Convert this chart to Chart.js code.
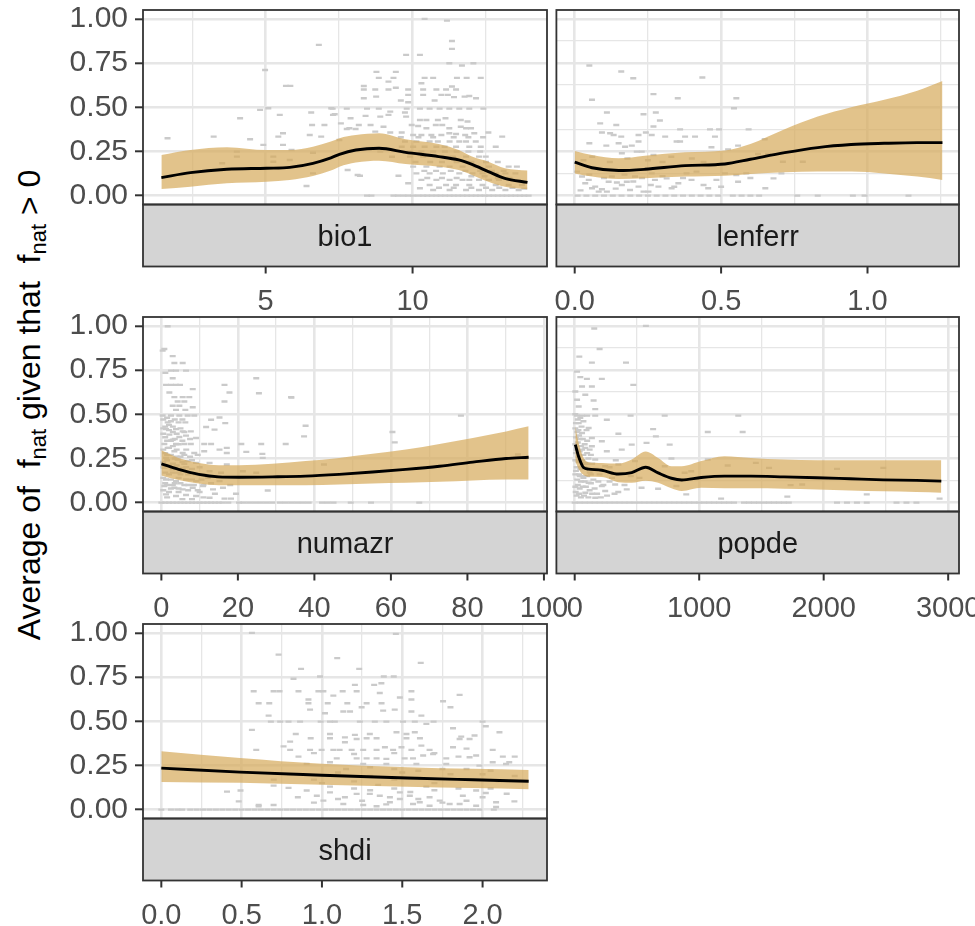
<!DOCTYPE html>
<html>
<head>
<meta charset="utf-8">
<script src="https://cdn.jsdelivr.net/npm/chart.js@4.4.0/dist/chart.umd.min.js"></script>
<style>
  body { margin: 0; background: #fff; overflow: hidden; }
  #wrap { position: relative; width: 975px; height: 926px; overflow: hidden; font-family: "Liberation Sans", Arial, sans-serif; }
  .panel { position: absolute; }
  #ytitle { position: absolute; left: 31px; top: 405px; transform: translate(-50%, -50%) rotate(-90deg);
            white-space: nowrap; font-size: 32px; color: #000; }
  #ytitle sub { font-size: 22px; vertical-align: -6px; }
</style>
</head>
<body>
<div id="wrap">
  <div id="ytitle">Average of&nbsp; f<sub>nat</sub> given that&nbsp; f<sub>nat</sub> &gt; 0</div>
  <div class="panel" style="left:0;top:0;width:570px;height:325px"><canvas id="c_bio1"></canvas></div>
  <div class="panel" style="left:551px;top:0;width:424px;height:325px"><canvas id="c_lenferr"></canvas></div>
  <div class="panel" style="left:0;top:307px;width:570px;height:325px"><canvas id="c_numazr"></canvas></div>
  <div class="panel" style="left:551px;top:307px;width:424px;height:325px"><canvas id="c_popde"></canvas></div>
  <div class="panel" style="left:0;top:614px;width:570px;height:325px"><canvas id="c_shdi"></canvas></div>
</div>
<script>
// shared y axis
const yMajor = [0, 0.25, 0.5, 0.75, 1];
const yMinor = [0.125, 0.375, 0.625, 0.875];
const yLabels = ["0.00", "0.25", "0.50", "0.75", "1.00"];

// ---- bio1
const bio1X   = [1.45, 2.44, 3.68, 5.03, 5.82, 6.61, 7.22, 7.51, 8.07, 8.86, 9.76, 10.89, 11.57, 12.02, 12.58, 13.14, 13.91];
const bio1Fit = [0.102, 0.130, 0.149, 0.155, 0.160, 0.183, 0.214, 0.234, 0.258, 0.268, 0.245, 0.221, 0.202, 0.177, 0.136, 0.098, 0.075];
const bio1Hi  = [0.230, 0.258, 0.274, 0.258, 0.258, 0.277, 0.306, 0.325, 0.343, 0.353, 0.319, 0.292, 0.258, 0.221, 0.192, 0.155, 0.142];
const bio1Lo  = [0.038, 0.051, 0.070, 0.079, 0.089, 0.111, 0.142, 0.164, 0.187, 0.198, 0.179, 0.164, 0.145, 0.117, 0.079, 0.051, 0.036];
const bio1Pts = [[1.66,0.325],[3.23,0.334],[3.52,0.183],[4.02,0.249],[4.02,0.221],[4.13,0.438],[4.47,0.319],[4.81,0.485],[4.92,0.287],[4.98,0.711],
  [5.09,0.494],[5.26,0.221],[5.26,0.192],[5.43,0.334],[5.48,0.457],[5.59,0.353],[5.59,0.287],[5.69,0.621],[5.84,0.621],[5.82,0.202],[5.88,0.258],
  [6.39,0.055],[6.50,0.343],[6.55,0.47],[6.58,0.40],[6.61,0.243],[6.61,0.126],[6.81,0.853],[6.89,0.334],[7.0,0.40],[7.23,0.494],[7.29,0.457],
  [10.41,1.0],[11.17,0.99],[11.34,0.875],[11.34,0.83],[9.78,0.796],[10.25,0.796],[11.25,0.749],[11.68,0.736],[12.07,0.749],[8.77,0.70],[9.43,0.70],
  [8.85,0.666],[9.35,0.666],[9.18,0.645],[10.30,0.636],[10.41,0.666],[10.70,0.666],[11.51,0.666],[11.84,0.666],[12.32,0.666],[8.34,0.62],[8.34,0.60],
  [8.73,0.60],[9.18,0.60],[9.43,0.61],[9.85,0.60],[10.36,0.60],[10.81,0.60],[11.14,0.60],[11.48,0.60],[11.34,0.617],[8.34,0.551],[8.76,0.56],[9.60,0.538],
  [9.85,0.57],[9.85,0.528],[10.36,0.57],[10.75,0.538],[10.98,0.57],[11.2,0.57],[11.41,0.557],[11.77,0.56],[11.93,0.564],[12.16,0.551],[7.28,0.492],
  [7.76,0.492],[8.45,0.492],[8.85,0.492],[9.24,0.475],[9.80,0.492],[10.25,0.492],[10.58,0.492],[10.92,0.492],[11.25,0.492],[11.59,0.492],[11.93,0.492],
  [12.41,0.492],[7.35,0.46],[7.89,0.438],[8.40,0.451],[8.90,0.447],[9.18,0.457],[9.74,0.47],[9.78,0.447],[10.25,0.428],[10.47,0.428],[10.86,0.428],
  [11.12,0.438],[11.64,0.428],[11.87,0.419],[7.56,0.409],[8.17,0.40],[8.57,0.40],[9.01,0.39],[9.97,0.40],[10.19,0.394],[10.47,0.381],[10.79,0.40],
  [11.01,0.40],[11.25,0.381],[11.64,0.39],[11.82,0.381],[11.99,0.381],[7.76,0.377],[8.06,0.377],[8.73,0.362],[9.24,0.357],[9.63,0.357],[10.02,0.343],
  [10.30,0.343],[10.64,0.343],[10.98,0.343],[11.25,0.353],[11.48,0.349],[11.79,0.343],[12.10,0.353],[12.58,0.357],[13.05,0.334],
  [9.74,0.306],[10.13,0.306],[10.58,0.306],[10.86,0.306],[11.26,0.306],[11.59,0.306],[11.82,0.306],[12.15,0.306],
  [9.63,0.277],[10.02,0.277],[10.41,0.277],[10.81,0.277],[11.09,0.277],[11.48,0.277],[11.93,0.277],[12.32,0.277],[12.83,0.277],
  [9.91,0.221],[10.36,0.221],[10.92,0.221],[11.37,0.221],[11.82,0.221],[12.26,0.221],[12.49,0.221],
  [10.02,0.164],[10.47,0.164],[10.92,0.164],[11.26,0.164],[11.70,0.164],[12.15,0.164],[12.60,0.164],[13.27,0.164],[13.55,0.164],
  [10.13,0.126],[10.58,0.126],[11.03,0.126],[11.59,0.126],[12.04,0.126],[12.38,0.126],[12.83,0.126],[13.16,0.126],[13.50,0.126],
  [10.30,0.089],[10.81,0.089],[11.26,0.089],[11.70,0.089],[11.93,0.089],[12.26,0.089],[12.60,0.089],[12.94,0.089],[13.39,0.089],
  [10.58,0.06],[11.14,0.06],[11.48,0.06],[11.93,0.06],[12.38,0.06],[12.83,0.06],[13.27,0.06],[13.72,0.06],
  [10.70,0.032],[11.26,0.032],[11.82,0.032],[12.26,0.032],[12.71,0.032],[13.16,0.032],[13.61,0.032],
  [8.21,0.113],[9.52,0.113],[9.85,0.07],[10.25,0.042],[8.9,0.25],[9.3,0.22],[8.6,0.27],[7.79,0.145],[8.13,0.117],[7.51,0.315],[7.85,0.381],
  [9.9,0.25],[10.3,0.25],[10.7,0.25],[11.1,0.25],[11.5,0.25],[11.9,0.25],[12.3,0.25],[10.1,0.19],[10.6,0.19],[11.0,0.19],[11.5,0.19],
  [12.0,0.19],[12.5,0.19],[12.9,0.19],[10.4,0.14],[10.8,0.14],[11.3,0.14],[11.8,0.14],[12.3,0.14],[12.7,0.14],[13.1,0.14],[10.5,0.1],
  [11.0,0.1],[11.5,0.1],[12.0,0.11],[12.45,0.11],[12.9,0.1],[13.3,0.1],[10.9,0.045],[11.4,0.045],[12.0,0.045],[12.5,0.045],[12.95,0.045],
  [13.4,0.045],[13.8,0.04],[9.6,0.33],[10.2,0.33],[10.7,0.33],[11.4,0.33],[11.9,0.33],[12.4,0.33]];
const bio1Zero = [8.45,8.6,9.35,9.5,9.69,9.85,10.02,10.2,10.36,10.5,10.65,10.81,10.95,11.1,11.26,11.4,11.55,11.7,11.85,12.0,
  12.15,12.3,12.45,12.6,12.75,12.9,13.05,13.2,13.35,13.5,13.65,13.8,13.95];
const bio1Major = [5, 10], bio1Minor = [2.5, 7.5, 12.5], bio1Labels = ["5", "10"];

// ---- lenferr
const lenX   = [0, 0.059, 0.15, 0.24, 0.377, 0.513, 0.60, 0.717, 0.83, 0.944, 1.057, 1.17, 1.256];
const lenFit = [0.189, 0.158, 0.142, 0.149, 0.17, 0.179, 0.206, 0.243, 0.272, 0.289, 0.296, 0.30, 0.30];
const lenHi  = [0.253, 0.23, 0.211, 0.226, 0.245, 0.255, 0.292, 0.375, 0.447, 0.50, 0.542, 0.594, 0.649];
const lenLo  = [0.126, 0.108, 0.094, 0.098, 0.108, 0.113, 0.123, 0.132, 0.136, 0.136, 0.126, 0.108, 0.089];
const lenPts = [[0.05,0.736],[0.159,0.702],[0.20,0.664],[0.059,0.542],[0.269,0.574],[0.352,0.551],[0.436,0.668],[0.552,0.551],[0.544,0.494],
  [0.11,0.47],[0.087,0.409],[0.142,0.40],[0.235,0.46],[0.277,0.47],[0.291,0.425],[0.269,0.391],[0.093,0.357],[0.121,0.353],[0.133,0.343],
  [0.159,0.334],[0.218,0.343],[0.243,0.357],[0.263,0.343],[0.309,0.334],[0.36,0.375],[0.377,0.334],[0.411,0.334],[0.462,0.375],[0.493,0.375],
  [0.479,0.334],[0.594,0.375],[0.649,0.319],[0.05,0.296],[0.108,0.283],[0.15,0.296],[0.172,0.277],[0.195,0.283],[0.218,0.306],[0.212,0.249],
  [0.161,0.24],[0.229,0.249],[0.269,0.23],[0.348,0.306],[0.36,0.306],[0.467,0.274],[0.524,0.262],[0.558,0.283],[0.626,0.236],[0.66,0.236],
  [0.711,0.192],[0.779,0.192],[0.008,0.136],[0.025,0.108],[0.036,0.07],[0.048,0.089],[0.059,0.042],[0.07,0.051],[0.082,0.023],[0.093,0.036],
  [0.11,0.023],[0.116,0.079],[0.127,0.108],[0.144,0.074],[0.161,0.06],[0.178,0.079],[0.189,0.032],[0.206,0.108],[0.218,0.051],[0.235,0.023],
  [0.252,0.023],[0.263,0.126],[0.274,0.089],[0.286,0.051],[0.314,0.098],[0.331,0.042],[0.354,0.07],[0.382,0.126],[0.399,0.089],[0.416,0.136],
  [0.456,0.042],[0.484,0.089],[0.513,0.126],[0.552,0.117],[0.558,0.079],[0.586,0.126],[0.651,0.042],[0.679,0.098],[0.706,0.126],
  [0.03,0.2],[0.06,0.22],[0.12,0.19],[0.18,0.21],[0.25,0.2],[0.3,0.19],[0.33,0.22],[0.4,0.21],[0.44,0.19],
  [0.02,0.03],[0.05,0.12],[0.1,0.1],[0.14,0.04],[0.17,0.12],[0.2,0.08],[0.23,0.1],[0.26,0.06],[0.3,0.11],[0.34,0.05],[0.37,0.1],
  [0.44,0.06],[0.5,0.05],[0.6,0.1]];
const lenZero = [0.01,0.04,0.07,0.1,0.13,0.16,0.19,0.22,0.25,0.28,0.31,0.34,0.37,0.40,0.43,0.46,0.49,0.54,0.57,0.60,0.63,0.76,0.83,0.95,0.99,1.14];
const lenMajor = [0, 0.5, 1.0], lenMinor = [0.25, 0.75, 1.25], lenLabels = ["0.0", "0.5", "1.0"];

// ---- numazr
const numX   = [0, 4.5, 9.8, 15, 20.3, 29, 37.7, 46.5, 55.2, 63.9, 72.7, 81.4, 90.1, 96];
const numFit = [0.22, 0.188, 0.16, 0.146, 0.144, 0.146, 0.15, 0.16, 0.173, 0.188, 0.206, 0.229, 0.25, 0.257];
const numHi  = [0.296, 0.253, 0.225, 0.212, 0.212, 0.22, 0.235, 0.253, 0.276, 0.30, 0.332, 0.366, 0.403, 0.432];
const numLo  = [0.154, 0.128, 0.109, 0.099, 0.098, 0.098, 0.099, 0.103, 0.109, 0.113, 0.118, 0.126, 0.131, 0.131];
const numPts = [[1.65,0.998],[0.78,0.869],[0.34,0.86],[2.96,0.829],[3.4,0.79],[5.57,0.79],[2.52,0.747],[3.83,0.747],[6.45,0.747],[1.04,0.735],
  [2.96,0.704],[24.8,0.704],[1.22,0.666],[2.52,0.666],[3.83,0.666],[4.88,0.666],[8.2,0.642],[16.5,0.666],[2.09,0.623],[3.4,0.597],[5.57,0.597],
  [7.3,0.597],[17.8,0.623],[25.5,0.619],[33.9,0.597],[4.26,0.572],[6.0,0.572],[2.96,0.548],[4.7,0.548],[6.27,0.525],[8.2,0.54],[3.83,0.525],
  [16.5,0.572],[0.34,0.493],[2.52,0.493],[4.7,0.493],[6.88,0.493],[8.6,0.493],[1.65,0.454],[4.5,0.454],[6.27,0.454],[13,0.469],[15.2,0.482],
  [16.7,0.45],[1.22,0.416],[3.83,0.416],[5.57,0.403],[7.7,0.403],[11.7,0.428],[13.9,0.413],[2.09,0.385],[4.7,0.371],[6.45,0.379],[9.07,0.366],
  [2.96,0.356],[0.78,0.332],[3.83,0.332],[6.0,0.332],[7.7,0.332],[11.2,0.332],[13,0.332],[17.1,0.31],[20.9,0.332],[26.1,0.332],[32.5,0.332],
  [15.2,0.30],[1.65,0.31],[3.4,0.291],[5.57,0.281],[8.6,0.281],[11.2,0.291],[22.2,0.287],[26.4,0.276],[26.5,0.253],[17.1,0.281],[1.22,0.253],
  [4.26,0.244],[6.88,0.235],[9.07,0.225],[12.6,0.225],[17.1,0.216],[0.78,0.197],[2.96,0.188],[5.57,0.197],[8.0,0.191],[12.6,0.178],[15.6,0.169],
  [21.3,0.178],[24.8,0.169],[1.22,0.131],[3.83,0.122],[6.45,0.131],[9.07,0.122],[12.2,0.141],[15.2,0.122],[0.78,0.094],[3.4,0.084],[5.57,0.075],
  [8.2,0.084],[10.9,0.094],[13.5,0.075],[16.1,0.084],[27.8,0.069],[1.22,0.047],[3.83,0.038],[6.45,0.043],[9.07,0.038],[12.6,0.028],[16.5,0.023],
  [18.2,0.023],[78.3,0.492],[60.4,0.40],[61,0.341],[42.5,0.216],[37.7,0.435],[37.3,0.375],[34,0.595],[93.2,0.272],
  [0.5,0.42],[2,0.44],[3,0.4],[1,0.37],[2.5,0.35],[4,0.3],[5,0.26],[1.5,0.27],[3,0.22],[6,0.22],[0.5,0.23],[2,0.16],[4.5,0.17],[7,0.16],
  [1,0.11],[3,0.1],[5,0.11],[7,0.1],[2,0.06],[4.5,0.06],[10,0.06],[11,0.16],
  [0.5,0.47],[1.5,0.48],[2.5,0.46],[3.5,0.47],[5.5,0.47],[1,0.43],[2,0.41],[3,0.43],[4,0.39],[5,0.42],[6,0.4],[0.5,0.39],[1.5,0.35],
  [3.5,0.36],[5.5,0.35],[7.5,0.36],[0.5,0.3],[2,0.31],[3,0.32],[4.5,0.33],[6.5,0.3],[1,0.28],[2.5,0.27],[4,0.26],[6,0.27],[7.5,0.26],
  [9.5,0.27],[1.5,0.24],[3.5,0.25],[5.5,0.23],[8,0.24],[0.5,0.2],[2,0.21],[4,0.21],[6.5,0.2],[10,0.2],[1,0.17],[3,0.17],[5,0.16],[9,0.16],
  [0.5,0.14],[2.5,0.13],[4.5,0.14],[8,0.13],[10.5,0.13],[1.5,0.1],[3.5,0.11],[6,0.1],[8.5,0.1],[11,0.1],[0.5,0.07],[2.5,0.08],[4.5,0.08],
  [7,0.07],[9.5,0.07],[1.5,0.03],[5.5,0.02],[8,0.02],[11,0.03],[14,0.05],[13,0.11],[15,0.14],[18,0.1],[19.5,0.05]];
const numZero = [0,1,2,3,4,5,6,7,8,9,10,11,12,13,14,15,16,17.5,20.3,21.5,23,24.5,26,27.5,29,31,32.5,34,35.5,37,38.5,42,43.5,45,49.5,54.8,67.4];
const numMajor = [0, 20, 40, 60, 80, 100], numMinor = [10, 30, 50, 70, 90], numLabels = ["0", "20", "40", "60", "80", "100"];

// ---- popde
const popX   = [5, 32, 72, 112, 218, 351, 458, 570, 670, 777, 860, 1016, 1202, 1415, 1681, 1947, 2213, 2479, 2745, 2945];
const popFit = [0.328, 0.26, 0.198, 0.19, 0.183, 0.162, 0.17, 0.2, 0.168, 0.138, 0.128, 0.142, 0.15, 0.15, 0.146, 0.141, 0.135, 0.129, 0.126, 0.122];
const popHi  = [0.432, 0.338, 0.253, 0.229, 0.225, 0.221, 0.244, 0.289, 0.253, 0.206, 0.206, 0.235, 0.263, 0.253, 0.244, 0.24, 0.24, 0.24, 0.24, 0.24];
const popLo  = [0.234, 0.191, 0.156, 0.146, 0.145, 0.116, 0.113, 0.124, 0.112, 0.081, 0.066, 0.084, 0.081, 0.081, 0.079, 0.075, 0.069, 0.064, 0.06, 0.056];
const popPts = [[157,0.985],[572,1.0],[200,0.869],[37,0.826],[138,0.792],[412,0.792],[19,0.741],[45,0.71],[98,0.70],[218,0.70],[471,0.666],
  [59,0.657],[138,0.657],[5,0.629],[85,0.61],[152,0.578],[19,0.582],[32,0.544],[165,0.529],[19,0.492],[60,0.492],[100,0.492],[165,0.492],
  [258,0.469],[449,0.492],[723,0.492],[1314,0.492],[32,0.45],[112,0.422],[351,0.39],[630,0.416],[1069,0.40],[1349,0.40],[652,0.375],[59,0.394],
  [138,0.366],[218,0.347],[458,0.328],[577,0.338],[763,0.328],[138,0.319],[258,0.291],[378,0.30],[777,0.25],[1069,0.244],[1455,0.225],[1229,0.21],
  [1561,0.197],[2479,0.197],[2107,0.191],[85,0.225],[165,0.244],[245,0.206],[351,0.216],[484,0.235],[936,0.178],[883,0.169],[723,0.206],[40,0.15],
  [112,0.113],[218,0.094],[325,0.103],[418,0.075],[537,0.084],[670,0.079],[817,0.094],[896,0.047],[1176,0.023],[1708,0.034],[1827,0.103],
  [1734,0.099],[2346,0.047],[2931,0.023],[85,0.056],[165,0.028],[245,0.066],
  [10,0.45],[20,0.4],[40,0.36],[60,0.3],[15,0.3],[80,0.33],[30,0.26],[100,0.28],[50,0.2],[10,0.18],[70,0.14],[25,0.1],[120,0.17],[150,0.13],
  [8,0.06],[50,0.03],[90,0.09],[180,0.05],[110,0.25],[200,0.16],[300,0.14],[260,0.04],[350,0.06],
  [5,0.5],[25,0.47],[45,0.48],[70,0.46],[5,0.42],[30,0.41],[55,0.43],[95,0.41],[10,0.37],[35,0.38],[65,0.36],[100,0.35],[5,0.33],
  [25,0.34],[50,0.32],[85,0.31],[120,0.3],[10,0.28],[40,0.29],[70,0.27],[130,0.27],[5,0.24],[30,0.23],[60,0.24],[90,0.22],[140,0.22],
  [15,0.2],[45,0.19],[75,0.2],[110,0.19],[170,0.19],[5,0.16],[35,0.16],[60,0.15],[100,0.15],[130,0.16],[20,0.13],[50,0.12],[80,0.12],
  [130,0.11],[190,0.12],[5,0.09],[40,0.08],[65,0.09],[120,0.07],[160,0.08],[15,0.04],[35,0.05],[75,0.04],[110,0.03],[140,0.05],[210,0.03],
  [230,0.1],[280,0.12],[320,0.05],[400,0.1],[450,0.15],[280,0.2],[330,0.24],[520,0.14]];
const popZero = [0,40,80,120,160,200,240,280,320,360,400,440,480,520,560,600,640,680,720,760,800,840,880,920,960,1000,1040,1080,1120,1160,
  1200,1240,1280,1360,1400,1440,1480,1520,1560,1600,1640,1680,1720,2107,2187,2267,2346,2585,2665,2745];
const popMajor = [0, 1000, 2000, 3000], popMinor = [500, 1500, 2500], popLabels = ["0", "1000", "2000", "3000"];

// ---- shdi
const shdiX   = [0, 0.49, 1.0, 1.53, 1.94, 2.287];
const shdiFit = [0.235, 0.212, 0.195, 0.179, 0.169, 0.161];
const shdiHi  = [0.331, 0.292, 0.259, 0.24, 0.231, 0.225];
const shdiLo  = [0.157, 0.152, 0.141, 0.13, 0.122, 0.115];
const shdiPts = [[0.564,1.0],[1.46,0.994],[0.73,0.877],[1.095,0.857],[0.87,0.796],[1.232,0.796],[1.615,0.83],[0.823,0.74],[0.988,0.753],
  [1.385,0.753],[1.447,0.753],[1.37,0.715],[1.325,0.706],[1.205,0.706],[0.575,0.67],[0.699,0.67],[0.736,0.67],[0.854,0.67],[0.978,0.67],
  [1.009,0.67],[1.071,0.645],[1.129,0.67],[1.216,0.67],[1.36,0.66],[1.557,0.67],[1.857,0.649],[0.606,0.602],[0.672,0.602],[0.916,0.623],
  [0.916,0.602],[1.036,0.602],[1.158,0.602],[1.278,0.602],[1.371,0.602],[1.485,0.634],[1.557,0.623],[1.754,0.613],[1.8,0.579],[0.668,0.532],
  [0.926,0.566],[1.019,0.545],[1.133,0.555],[1.175,0.555],[1.247,0.579],[1.381,0.56],[1.453,0.566],[1.557,0.555],[1.619,0.532],[0.682,0.498],
  [0.74,0.498],[0.792,0.498],[0.864,0.498],[0.992,0.498],[1.05,0.498],[1.08,0.498],[1.236,0.498],[1.329,0.498],[1.401,0.498],[1.505,0.498],
  [1.578,0.498],[1.65,0.485],[1.695,0.498],[2.0,0.498],[2.02,0.472],[0.564,0.451],[0.837,0.428],[1.05,0.428],[1.143,0.409],[1.205,0.423],
  [1.298,0.428],[1.464,0.438],[1.526,0.428],[1.578,0.438],[1.816,0.46],[1.867,0.413],[1.95,0.419],[2.105,0.438],[0.761,0.358],[0.802,0.385],
  [0.93,0.404],[1.05,0.404],[1.143,0.381],[1.216,0.40],[1.278,0.404],[1.34,0.404],[1.526,0.404],[1.61,0.404],[1.857,0.40],[1.919,0.40],
  [0.591,0.338],[0.802,0.338],[0.854,0.30],[0.926,0.338],[0.998,0.338],[1.071,0.338],[1.11,0.338],[1.185,0.338],[1.257,0.338],[1.34,0.338],
  [1.392,0.353],[1.443,0.338],[1.495,0.353],[1.557,0.338],[1.619,0.362],[1.67,0.338],[1.816,0.353],[1.9,0.345],[1.96,0.306],[2.063,0.338],
  [2.126,0.30],[1.092,0.29],[1.216,0.29],[1.278,0.29],[1.34,0.29],[1.401,0.287],[1.515,0.29],[1.567,0.29],[1.63,0.306],[1.692,0.315],
  [1.774,0.29],[1.919,0.296],[2.063,0.268],[2.166,0.268],[0.905,0.258],[1.05,0.268],[1.257,0.258],[1.401,0.258],[1.588,0.258],[1.774,0.258],
  [1.98,0.249],[2.146,0.258],[0.699,0.136],[0.792,0.123],[0.905,0.108],[0.968,0.079],[1.05,0.098],[1.143,0.07],[1.216,0.089],[1.298,0.089],
  [1.36,0.079],[1.423,0.07],[1.485,0.098],[1.485,0.06],[1.547,0.079],[1.609,0.042],[1.67,0.07],[1.733,0.051],[1.795,0.032],[1.877,0.079],
  [1.96,0.108],[2.02,0.094],[2.084,0.042],[2.198,0.047],[0.699,0.026],[0.606,0.026],[0.482,0.047],[0.493,0.108],[1.009,0.051],[1.133,0.032],
  [1.257,0.026],[1.34,0.019],[1.423,0.042],[1.567,0.032],[1.67,0.022],[1.857,0.032],[1.96,0.022],[2.084,0.015],[0.409,0.102],[0.606,0.019],
  [0.8,0.2],[0.95,0.17],[1.1,0.21],[1.2,0.16],[1.3,0.19],[1.45,0.17],[1.5,0.21],[1.6,0.18],[1.7,0.15],[1.8,0.2],[1.9,0.17],[2.0,0.2],
  [2.1,0.16],[2.2,0.19],[0.7,0.17],[1.0,0.15],[1.35,0.14],[1.65,0.13],
  [0.95,0.04],[1.05,0.13],[1.1,0.06],[1.2,0.12],[1.25,0.05],[1.3,0.11],[1.4,0.03],[1.45,0.12],[1.55,0.1],[1.6,0.06],[1.7,0.11],[1.75,0.04],
  [1.85,0.12],[1.9,0.05],[2.0,0.07],[2.05,0.12],[2.15,0.09],[0.85,0.07],[1.15,0.23],[1.3,0.24],[1.45,0.23],[1.6,0.22],[1.75,0.23],[1.9,0.23],
  [2.05,0.22],[0.95,0.32],[1.2,0.315],[1.45,0.32],[1.7,0.32],[1.85,0.3],[2.2,0.3]];
const shdiZero = [0,0.06,0.1,0.13,0.18,0.22,0.26,0.3,0.34,0.38,0.42,0.46,0.5,0.54,0.58,0.62,0.66,0.7,0.74,0.78,0.82,0.86,0.9,0.94,0.98,
  1.02,1.06,1.1,1.14,1.18,1.22,1.26,1.3,1.34,1.38,1.42,1.46,1.5,1.54,1.58,1.62,1.66,1.7,1.74,1.78,1.82,1.86,1.9,1.94,1.98,2.07];
const shdiMajor = [0, 0.5, 1.0, 1.5, 2.0], shdiMinor = [0.25, 0.75, 1.25, 1.75, 2.25], shdiLabels = ["0.0", "0.5", "1.0", "1.5", "2.0"];

const FONT = '"Liberation Sans", Arial, sans-serif';
const ribbonColor = 'rgba(214, 170, 90, 0.7)';
const gridColor = '#E6E6E6';
const STRIP_H = 62;

// panel frame, strip and x tick marks under the strip
const frame = {
  id: 'frame',
  afterDraw(chart, args, opts) {
    const { ctx, chartArea: a } = chart;
    const x = chart.scales.x;
    const w = a.right - a.left;
    ctx.save();
    ctx.fillStyle = '#D4D4D4';
    ctx.fillRect(a.left, a.bottom, w, STRIP_H);
    ctx.strokeStyle = '#333333';
    ctx.lineWidth = 1.8;
    ctx.strokeRect(a.left, a.bottom, w, STRIP_H);
    ctx.strokeRect(a.left, a.top, w, a.bottom - a.top);
    ctx.fillStyle = '#1A1A1A';
    ctx.font = '29px ' + FONT;
    ctx.textAlign = 'center';
    ctx.textBaseline = 'middle';
    ctx.fillText(opts.title, a.left + w / 2, a.bottom + STRIP_H / 2 + 2);
    ctx.lineWidth = 2;
    opts.majors.forEach(v => {
      const px = x.getPixelForValue(v);
      ctx.beginPath();
      ctx.moveTo(px, a.bottom + STRIP_H);
      ctx.lineTo(px, a.bottom + STRIP_H + 7);
      ctx.stroke();
    });
    ctx.restore();
  }
};

function xy(xs, ys) { return xs.map((v, i) => ({ x: v, y: ys[i] })); }

function makePanel(id, p) {
  const left = p.col === 0;
  const xTicks = p.major.concat(p.minor).sort((a, b) => a - b);
  const yTicks = yMajor.concat(yMinor).sort((a, b) => a - b);
  const pts = p.pts.map(d => ({ x: d[0], y: d[1] })).concat(p.zero.map(v => ({ x: v, y: 0 })));
  new Chart(document.getElementById(id), {
    type: 'scatter',
    data: {
      datasets: [
        { type: 'line', data: xy(p.x, p.fit), borderColor: '#000', borderWidth: 2.9, pointRadius: 0,
          cubicInterpolationMode: 'monotone', fill: false },
        { type: 'line', data: xy(p.x, p.hi), borderWidth: 0, borderColor: 'rgba(0,0,0,0)', pointRadius: 0,
          cubicInterpolationMode: 'monotone', fill: false },
        { type: 'line', data: xy(p.x, p.lo), borderWidth: 0, borderColor: 'rgba(0,0,0,0)', pointRadius: 0,
          cubicInterpolationMode: 'monotone', fill: '-1', backgroundColor: ribbonColor },
        { data: pts, pointStyle: 'line', pointRadius: 3, pointHoverRadius: 3, borderWidth: 2.4, borderColor: '#CACACA' }
      ]
    },
    options: {
      responsive: true,
      maintainAspectRatio: false,
      animation: false,
      events: [],
      layout: { padding: { top: 10, left: 0, bottom: 0, right: left ? 23 : 16 } },
      plugins: { legend: { display: false }, tooltip: { enabled: false },
                 frame: { title: p.title, majors: p.major } },
      scales: {
        x: {
          type: 'linear', min: p.min, max: p.max,
          afterBuildTicks: s => { s.ticks = xTicks.map(v => ({ value: v })); },
          afterFit: s => { s.height = 120.5; s.paddingLeft = 0; s.paddingRight = 0; },
          ticks: {
            autoSkip: false, maxRotation: 0, padding: 80, color: '#4D4D4D', font: { family: FONT, size: 29 },
            callback: v => { const i = p.major.indexOf(v); return i >= 0 ? p.labels[i] : ''; }
          },
          grid: { color: gridColor, drawTicks: false,
                  lineWidth: c => p.major.includes(c.tick.value) ? 2.6 : 1.3 },
          border: { display: false }
        },
        y: {
          min: -0.05, max: 1.05,
          afterBuildTicks: s => { s.ticks = yTicks.map(v => ({ value: v })); },
          afterFit: s => { s.width = left ? 143 : 4; s.paddingTop = 0; s.paddingBottom = 0; },
          ticks: {
            display: left, padding: 7, color: '#4D4D4D', font: { family: FONT, size: 30 },
            callback: v => { const i = yMajor.indexOf(v); return i >= 0 ? yLabels[i] : ''; }
          },
          grid: { color: gridColor, drawTicks: left, tickLength: 8, tickWidth: 2,
                  tickColor: c => yMajor.includes(c.tick.value) ? '#333333' : 'rgba(0,0,0,0)',
                  lineWidth: c => yMajor.includes(c.tick.value) ? 2.6 : 1.3 },
          border: { display: false }
        }
      }
    },
    plugins: [frame]
  });
}

makePanel('c_bio1', { col: 0, title: 'bio1', x: bio1X, fit: bio1Fit, hi: bio1Hi, lo: bio1Lo, pts: bio1Pts, zero: bio1Zero,
  min: 0.825, max: 14.575, major: bio1Major, minor: bio1Minor, labels: bio1Labels });
makePanel('c_lenferr', { col: 1, title: 'lenferr', x: lenX, fit: lenFit, hi: lenHi, lo: lenLo, pts: lenPts, zero: lenZero,
  min: -0.0625, max: 1.3125, major: lenMajor, minor: lenMinor, labels: lenLabels });
makePanel('c_numazr', { col: 0, title: 'numazr', x: numX, fit: numFit, hi: numHi, lo: numLo, pts: numPts, zero: numZero,
  min: -4.8, max: 100.8, major: numMajor, minor: numMinor, labels: numLabels });
makePanel('c_popde', { col: 1, title: 'popde', x: popX, fit: popFit, hi: popHi, lo: popLo, pts: popPts, zero: popZero,
  min: -147, max: 3087, major: popMajor, minor: popMinor, labels: popLabels });
makePanel('c_shdi', { col: 0, title: 'shdi', x: shdiX, fit: shdiFit, hi: shdiHi, lo: shdiLo, pts: shdiPts, zero: shdiZero,
  min: -0.114, max: 2.401, major: shdiMajor, minor: shdiMinor, labels: shdiLabels });
</script>
</body>
</html>
